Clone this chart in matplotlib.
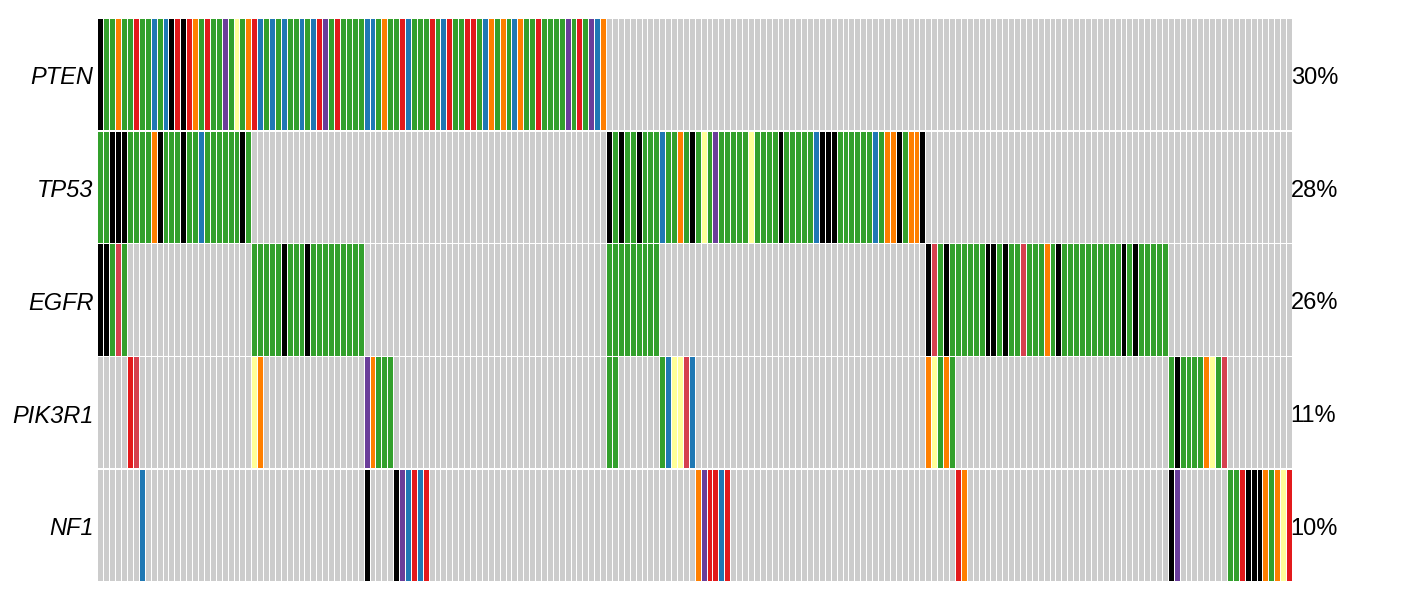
import matplotlib
matplotlib.use("Agg")
import matplotlib.pyplot as plt

plt.rcParams['font.family'] = ['Liberation Sans', 'DejaVu Sans']

genes = ["PTEN", "TP53", "EGFR", "PIK3R1", "NF1"]
pct_labels = ["30%", "28%", "26%", "11%", "10%"]

# alteration type per sample (one letter each), '.' = nothing
pten = ("KGGOGGRGGBGBKRKROGRGGPGYGORBGBGBGGBGBRPGRGG"
        "GGBBGOGGRBGGGRGBRGGRRGBOGOGBOGGRGGGGPGRGPBO"
        + "." * 116)
tp53 = ("GGKKKGGGGOKGGGKGGBGGGGGGKG" + "." * 60
        + "KGKGGKGGGBGGOGKGYGPGGGGGYGGGGKGGGGGBKKKGGGGGGBGOOKGOOK"
        + "." * 62)
egfr = ("KKGDG" + "." * 21 + "GGGGGKGGGKGGGGGGGGG" + "." * 41
        + "GGGGGGGGG" + "." * 45
        + "KDGKGGGGGGKKGKGGDGGGOGK" + "GGGGGGGGGG" + "KGK" + "GGGGG"
        + "." * 21)
pik3r1 = ("." * 5 + "RD" + "." * 19 + "YO" + "." * 17 + "POGGG" + "." * 36
          + "GG" + "." * 7 + "GBYYDB" + "." * 39 + "OYGOG" + "." * 36
          + "GKGGGGOYGD" + "." * 11)
nf1 = ("." * 7 + "B" + "." * 37 + "K" + "." * 4 + "KPBRBR" + "." * 45
       + "OPRRBR" + "." * 38 + "RO" + "." * 34 + "KP" + "." * 8
       + "GGRKKKOGOYR")

rows = [pten, tp53, egfr, pik3r1, nf1]

colors = {
    ".": "#CCCCCC",
    "G": "#33A02C",
    "B": "#1F78B4",
    "R": "#E31A1C",
    "O": "#FF7F00",
    "P": "#6A3D9A",
    "Y": "#FFFF99",
    "K": "#000000",
    "D": "#D6404E",
}


def draw_oncoprint():
    n = len(pten)
    fig = plt.figure(figsize=(14.08, 5.98), dpi=100)
    ax_w = 1194.5
    ax_h = 564
    ax = fig.add_axes([98 / 1408, 16 / 598, ax_w / 1408, ax_h / 598])

    # one pixel of white between neighbouring cells
    col_gap = n / ax_w
    row_gap = 1.5 * len(genes) / ax_h

    for r, (gene, row) in enumerate(zip(genes, rows)):
        assert len(row) == n, (gene, len(row))
        ax.bar([j + 0.5 for j in range(n)], 1 - row_gap, bottom=r + row_gap / 2,
               width=1 - col_gap, color=[colors[c] for c in row], linewidth=0)
        ax.text(-0.8, r + 0.53, gene, ha='right', va='center',
                fontsize=17, style='italic')
        ax.text(n - 0.3, r + 0.53, pct_labels[r], ha='left', va='center',
                fontsize=17)

    ax.set_xlim(0, n)
    ax.set_ylim(len(genes), 0)
    ax.axis('off')
    fig.savefig("out.png", dpi=100)


if __name__ == "__main__":
    draw_oncoprint()
